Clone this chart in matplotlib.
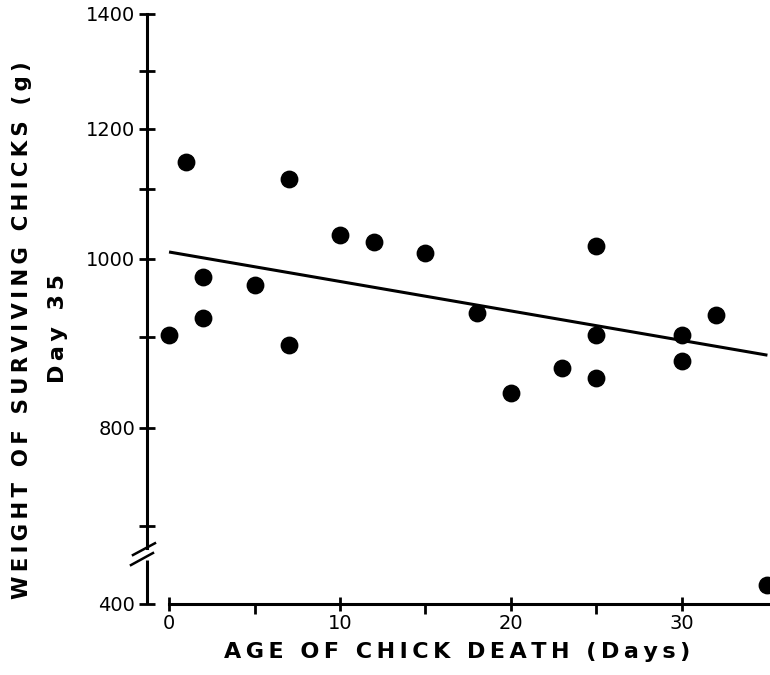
import numpy as np
import matplotlib.pyplot as plt
from matplotlib.ticker import FixedLocator

# day 35 weight of the surviving chicks against the age at which a brood-mate died
age = [0, 1, 2, 2, 5, 7, 7, 10, 12, 15, 18, 20, 23, 25, 25, 25, 30, 30, 32, 35]
weight = [903, 1145, 977, 924, 967, 1117, 891, 1034, 1024, 1009,
          931, 838, 866, 1019, 903, 855, 902, 874, 928, 440]

# regression line as printed
fit_age = [0, 35]
fit_weight = [1010, 880]

x_major = [0, 10, 20, 30]
x_minor = [5, 15, 25]
y_major = [400, 800, 1000, 1200, 1400]
y_minor = [700, 900, 1100, 1300]

# the printed weight axis is not evenly spaced (and broken below 700 g):
# grams vs. height above the x axis
scale_grams = [400, 500, 700, 800, 900, 1000, 1100, 1200, 1300, 1400]
scale_height = [0, 48, 78, 176, 267, 345, 415, 475, 533, 590]


def _interp_ext(v, xs, ys):
    v = np.asarray(v, dtype=float)
    out = np.interp(v, xs, ys)
    lo_slope = (ys[1] - ys[0]) / (xs[1] - xs[0])
    hi_slope = (ys[-1] - ys[-2]) / (xs[-1] - xs[-2])
    out = np.where(v < xs[0], ys[0] + (v - xs[0]) * lo_slope, out)
    out = np.where(v > xs[-1], ys[-1] + (v - xs[-1]) * hi_slope, out)
    return out


def forward(v):
    return _interp_ext(v, scale_grams, scale_height)


def inverse(h):
    return _interp_ext(h, scale_height, scale_grams)


plt.rcParams['font.family'] = 'DejaVu Sans'

fig = plt.figure(figsize=(7.7, 6.75), dpi=100)
ax = fig.add_axes([0.1909, 0.1052, 0.8091, 0.8741])

ax.set_yscale('function', functions=(forward, inverse))
ax.set_ylim(400, 1400)
ax.set_xlim(-1.29, 35.15)

ax.scatter(age, weight, s=140, color='black', zorder=3, clip_on=False)
ax.plot(fit_age, fit_weight, color='black', lw=2.2, solid_capstyle='butt')

# spines
for side in ['top', 'right']:
    ax.spines[side].set_visible(False)
ax.spines['left'].set_linewidth(2.2)
ax.spines['bottom'].set_linewidth(2.2)
ax.spines['bottom'].set_bounds(0, 35.15)
ax.spines['left'].set_bounds(553, 1400)
# lower piece of the broken weight axis
ax.plot([0, 0], [400, 492], transform=ax.get_yaxis_transform(),
        color='black', lw=2.2, clip_on=False, solid_capstyle='butt')
# break marks
for (x0, y0, x1, y1) in [(-0.0257, 0.066, 0.0096, 0.0864),
                         (-0.0225, 0.083, 0.0128, 0.103)]:
    ax.plot([x0, x1], [y0, y1], transform=ax.transAxes, color='black',
            lw=1.8, clip_on=False)

ax.yaxis.set_major_locator(FixedLocator(y_major))
ax.yaxis.set_minor_locator(FixedLocator(y_minor))
ax.set_yticklabels([str(v) for v in y_major])
ax.yaxis.set_minor_formatter(plt.NullFormatter())
ax.tick_params(axis='y', which='both', direction='inout', length=11,
               width=2, labelsize=14, pad=3)

ax.xaxis.set_major_locator(FixedLocator(x_major))
ax.xaxis.set_minor_locator(FixedLocator(x_minor))
ax.set_xticklabels([str(v) for v in x_major])
ax.xaxis.set_minor_formatter(plt.NullFormatter())
ax.tick_params(axis='x', which='major', direction='inout', length=10,
               width=2, labelsize=14, pad=2)
ax.tick_params(axis='x', which='minor', direction='out', length=7, width=2)


def spaced(s):
    return '\u2009'.join(s)


fig.text(0.594, 1 - 652 / 675, spaced('AGE OF CHICK DEATH (Days)'),
         ha='center', va='center', fontsize=16, fontweight='bold')
fig.text(22 / 770, 1 - 330 / 675, spaced('WEIGHT OF SURVIVING CHICKS (g)'),
         ha='center', va='center', rotation=90, fontsize=15.3, fontweight='bold')
fig.text(58 / 770, 1 - 329 / 675, spaced('Day 35'),
         ha='center', va='center', rotation=90, fontsize=16, fontweight='bold')

fig.savefig('out.png', dpi=100)
